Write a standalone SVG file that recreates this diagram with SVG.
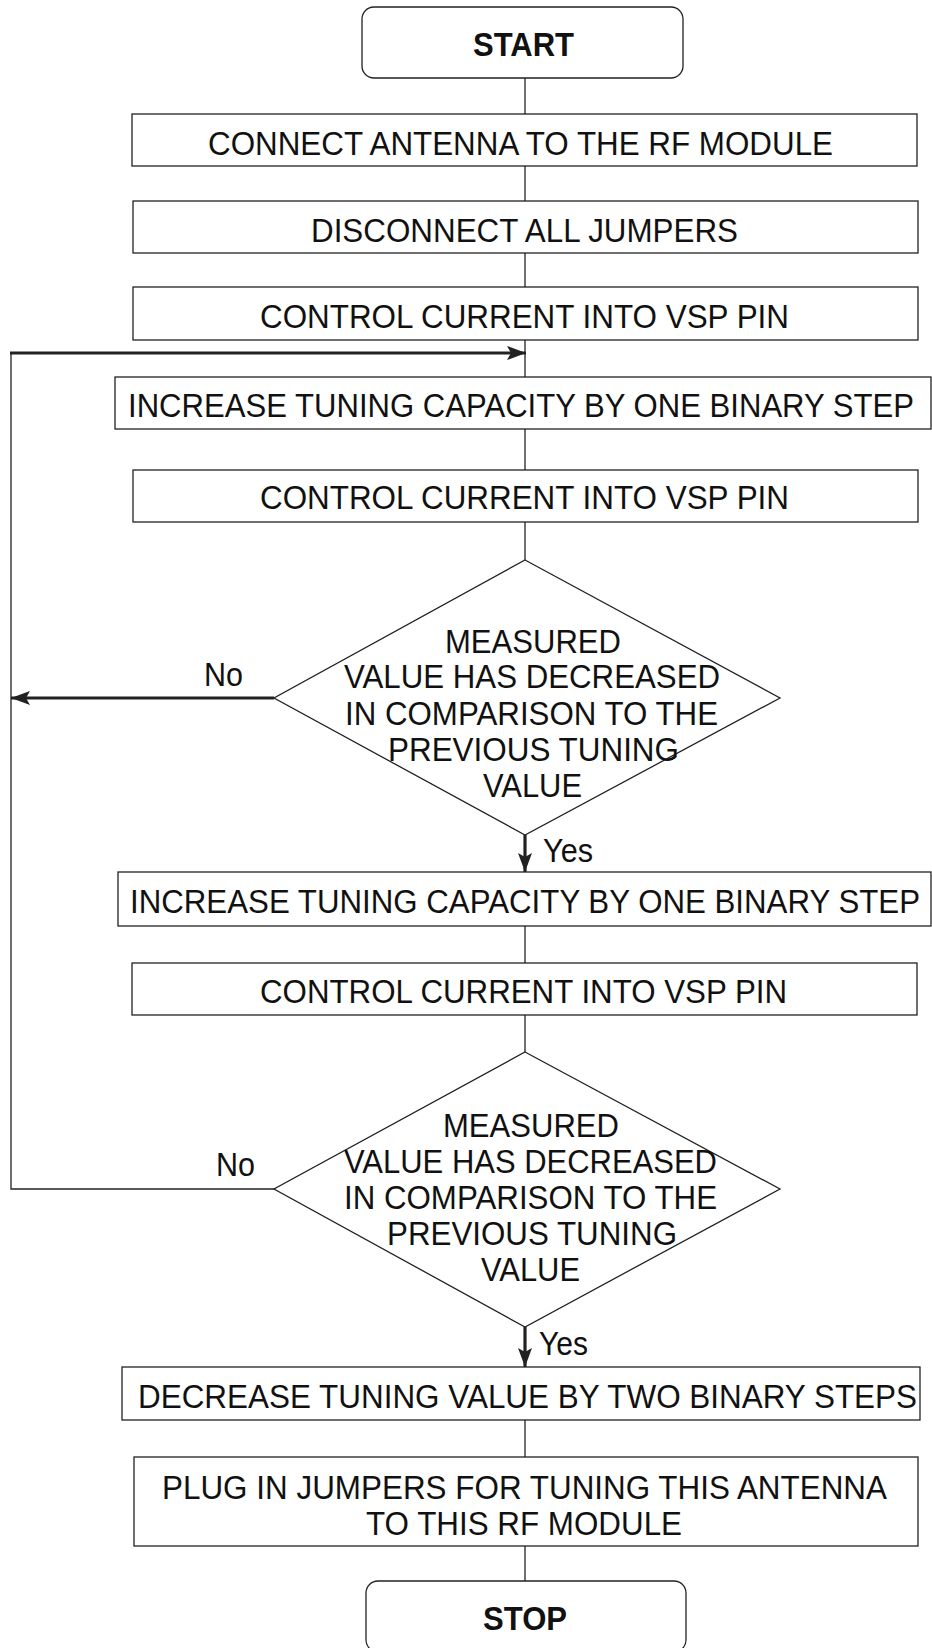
<svg xmlns="http://www.w3.org/2000/svg" width="932" height="1648" viewBox="0 0 932 1648">
<style>
.box{fill:#fff;stroke:#222;stroke-width:1.3}
.t{font-family:"Liberation Sans",Arial,sans-serif;font-size:31px;fill:#111;text-anchor:middle}
.b{font-weight:bold;font-size:30px}
.l{font-family:"Liberation Sans",Arial,sans-serif;font-size:31px;fill:#111}
.thin{stroke:#222;stroke-width:1.3;fill:none}
.thick{stroke:#222;stroke-width:3.2;fill:none}
</style>
<defs>
<marker id="ah" markerUnits="userSpaceOnUse" markerWidth="20" markerHeight="16" refX="19" refY="8" orient="auto" viewBox="0 0 20 16">
<path d="M0,1 L19,8 L0,15 L4,8 z" fill="#222"/>
</marker>
</defs>
<rect width="932" height="1648" fill="#fff"/>
<g id="connectors">
<line class="thin" x1="525" y1="78" x2="525" y2="114"/>
<line class="thin" x1="525" y1="166" x2="525" y2="201"/>
<line class="thin" x1="525" y1="253" x2="525" y2="287"/>
<line class="thin" x1="525" y1="340" x2="525" y2="377"/>
<line class="thin" x1="525" y1="429" x2="525" y2="470"/>
<line class="thin" x1="525" y1="522" x2="525" y2="560"/>
<line class="thick" x1="525" y1="835" x2="525" y2="872" marker-end="url(#ah)"/>
<line class="thin" x1="525" y1="926" x2="525" y2="963"/>
<line class="thin" x1="525" y1="1015" x2="525" y2="1052"/>
<line class="thick" x1="525" y1="1327" x2="525" y2="1367" marker-end="url(#ah)"/>
<line class="thin" x1="525" y1="1420" x2="525" y2="1457"/>
<line class="thin" x1="525" y1="1546" x2="525" y2="1581"/>
<line class="thick" x1="274" y1="698" x2="11" y2="698" marker-end="url(#ah)"/>
<polyline class="thin" points="274,1189 11,1189 11,353"/>
<line class="thick" x1="10" y1="353" x2="526" y2="353" marker-end="url(#ah)"/>
<text class="l" transform="translate(204,686) scale(1,1.1)" textLength="39" lengthAdjust="spacingAndGlyphs">No</text>
<text class="l" transform="translate(543,862) scale(1,1.1)" textLength="50" lengthAdjust="spacingAndGlyphs">Yes</text>
<text class="l" transform="translate(216,1176) scale(1,1.1)" textLength="39" lengthAdjust="spacingAndGlyphs">No</text>
<text class="l" transform="translate(539,1355) scale(1,1.1)" textLength="49" lengthAdjust="spacingAndGlyphs">Yes</text>
</g>
<g id="start">
<rect class="box" x="362" y="7" width="321" height="71" rx="12"/>
<text class="t b" transform="translate(523.5,55.5) scale(1,1.1)" textLength="101" lengthAdjust="spacingAndGlyphs">START</text>
</g>
<g id="connect-antenna">
<rect class="box" x="132" y="114" width="785" height="52"/>
<text class="t" transform="translate(520.5,155) scale(1,1.1)" textLength="625" lengthAdjust="spacingAndGlyphs">CONNECT ANTENNA TO THE RF MODULE</text>
</g>
<g id="disconnect-jumpers">
<rect class="box" x="133" y="201" width="785" height="52"/>
<text class="t" transform="translate(524.5,242) scale(1,1.1)" textLength="427" lengthAdjust="spacingAndGlyphs">DISCONNECT ALL JUMPERS</text>
</g>
<g id="control-current-1">
<rect class="box" x="133" y="287" width="785" height="53"/>
<text class="t" transform="translate(524.5,328) scale(1,1.1)" textLength="529" lengthAdjust="spacingAndGlyphs">CONTROL CURRENT INTO VSP PIN</text>
</g>
<g id="increase-1">
<rect class="box" x="115" y="377" width="816" height="52"/>
<text class="t" transform="translate(521,417) scale(1,1.1)" textLength="786" lengthAdjust="spacingAndGlyphs">INCREASE TUNING CAPACITY BY ONE BINARY STEP</text>
</g>
<g id="control-current-2">
<rect class="box" x="133" y="470" width="785" height="52"/>
<text class="t" transform="translate(524.5,509) scale(1,1.1)" textLength="529" lengthAdjust="spacingAndGlyphs">CONTROL CURRENT INTO VSP PIN</text>
</g>
<g id="decision-1">
<polygon class="box" points="525,560 780,698 525,835 274,698"/>
<text class="t" transform="translate(533,653) scale(1,1.1)" textLength="176" lengthAdjust="spacingAndGlyphs">MEASURED</text>
<text class="t" transform="translate(532,688) scale(1,1.1)" textLength="376" lengthAdjust="spacingAndGlyphs">VALUE HAS DECREASED</text>
<text class="t" transform="translate(531.5,725) scale(1,1.1)" textLength="373" lengthAdjust="spacingAndGlyphs">IN COMPARISON TO THE</text>
<text class="t" transform="translate(533.5,761) scale(1,1.1)" textLength="291" lengthAdjust="spacingAndGlyphs">PREVIOUS TUNING</text>
<text class="t" transform="translate(532.5,797) scale(1,1.1)" textLength="99" lengthAdjust="spacingAndGlyphs">VALUE</text>
</g>
<g id="increase-2">
<rect class="box" x="118" y="872" width="813" height="54"/>
<text class="t" transform="translate(525,913) scale(1,1.1)" textLength="790" lengthAdjust="spacingAndGlyphs">INCREASE TUNING CAPACITY BY ONE BINARY STEP</text>
</g>
<g id="control-current-3">
<rect class="box" x="132" y="963" width="785" height="52"/>
<text class="t" transform="translate(523.5,1003) scale(1,1.1)" textLength="527" lengthAdjust="spacingAndGlyphs">CONTROL CURRENT INTO VSP PIN</text>
</g>
<g id="decision-2">
<polygon class="box" points="525,1052 780,1189 525,1327 274,1189"/>
<text class="t" transform="translate(531,1137) scale(1,1.1)" textLength="176" lengthAdjust="spacingAndGlyphs">MEASURED</text>
<text class="t" transform="translate(530.5,1173) scale(1,1.1)" textLength="373" lengthAdjust="spacingAndGlyphs">VALUE HAS DECREASED</text>
<text class="t" transform="translate(530.5,1209) scale(1,1.1)" textLength="373" lengthAdjust="spacingAndGlyphs">IN COMPARISON TO THE</text>
<text class="t" transform="translate(532,1245) scale(1,1.1)" textLength="290" lengthAdjust="spacingAndGlyphs">PREVIOUS TUNING</text>
<text class="t" transform="translate(530.5,1281) scale(1,1.1)" textLength="99" lengthAdjust="spacingAndGlyphs">VALUE</text>
</g>
<g id="decrease">
<rect class="box" x="122" y="1367" width="798" height="53"/>
<text class="t" transform="translate(527.5,1408) scale(1,1.1)" textLength="779" lengthAdjust="spacingAndGlyphs">DECREASE TUNING VALUE BY TWO BINARY STEPS</text>
</g>
<g id="plug-in">
<rect class="box" x="134" y="1457" width="784" height="89"/>
<text class="t" transform="translate(524.5,1499) scale(1,1.1)" textLength="725" lengthAdjust="spacingAndGlyphs">PLUG IN JUMPERS FOR TUNING THIS ANTENNA</text>
<text class="t" transform="translate(524,1535) scale(1,1.1)" textLength="316" lengthAdjust="spacingAndGlyphs">TO THIS RF MODULE</text>
</g>
<g id="stop">
<rect class="box" x="366" y="1581" width="320" height="71" rx="12"/>
<text class="t b" transform="translate(525,1629.5) scale(1,1.1)" textLength="84" lengthAdjust="spacingAndGlyphs">STOP</text>
</g>
</svg>
